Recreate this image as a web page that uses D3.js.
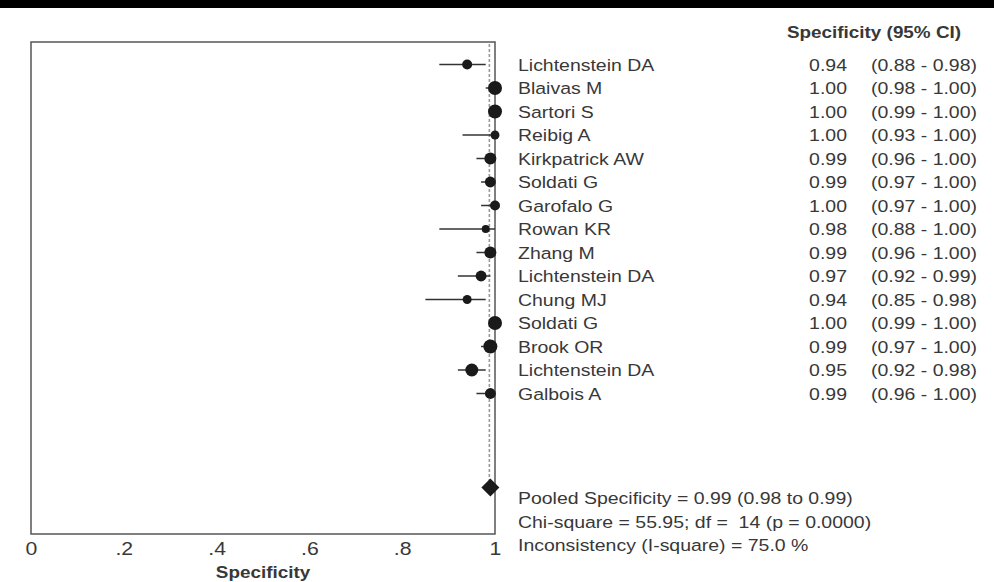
<!DOCTYPE html>
<html>
<head>
<meta charset="utf-8">
<script src="https://cdn.jsdelivr.net/npm/d3@7"></script>
<style>
  body { margin: 0; background: #fff; }
  text { font-family: "Liberation Sans", Arial, sans-serif; fill: #383838; white-space: pre; }
</style>
</head>
<body>
<svg id="chart" width="994" height="582"></svg>
<script>
// study rows, top to bottom
const studies = ["Lichtenstein DA","Blaivas M","Sartori S","Reibig A","Kirkpatrick AW","Soldati G","Garofalo G","Rowan KR","Zhang M","Lichtenstein DA","Chung MJ","Soldati G","Brook OR","Lichtenstein DA","Galbois A"]
const spec  = [0.94,1.00,1.00,1.00,0.99,0.99,1.00,0.98,0.99,0.97,0.94,1.00,0.99,0.95,0.99]
const lower = [0.88,0.98,0.99,0.93,0.96,0.97,0.97,0.88,0.96,0.92,0.85,0.99,0.97,0.92,0.96]
const upper = [0.98,1.00,1.00,1.00,1.00,1.00,1.00,1.00,1.00,0.99,0.98,1.00,1.00,0.98,1.00]
// relative study weight (marker area)
const weights = [25,49,49,20,36,30,25,16,36,30,20,49,49,42,30]

const pooled = 0.99
const statLines = [
  "Pooled Specificity = 0.99 (0.98 to 0.99)",
  "Chi-square = 55.95; df =  14 (p = 0.0000)",
  "Inconsistency (I-square) = 75.0 %"
]
const xTicks = [0,0.2,0.4,0.6,0.8,1]

const svg = d3.select("#chart")
const stretch = 1.18   // the source text is drawn wide

const x = d3.scaleLinear().domain([0,1]).range([31,495])
const yRow = d3.scaleLinear().domain([0,14]).range([64.5,393.5])
const r = d3.scaleSqrt().domain([0,49]).range([0,7])

// put wide text at (px,py)
const wideText = (g, px, py, str, size, anchor="start", weight="normal") =>
  g.append("text")
    .attr("transform", `translate(${px},${py}) scale(${stretch},1)`)
    .attr("text-anchor", anchor)
    .attr("font-size", size)
    .attr("font-weight", weight)
    .text(str)

// black strip across the top
svg.append("rect").attr("x",0).attr("y",0).attr("width",994).attr("height",8).attr("fill","#000")

// frame
svg.append("rect")
  .attr("x", x(0)).attr("y", 42)
  .attr("width", x(1)-x(0)).attr("height", 534-42)
  .attr("fill","none").attr("stroke","#555").attr("stroke-width",1.5)

// pooled reference line
svg.append("line")
  .attr("x1", x(pooled)-1).attr("x2", x(pooled)-1)
  .attr("y1", 44).attr("y2", yRow(18))
  .attr("stroke","#999").attr("stroke-width",1.6)
  .attr("stroke-dasharray","3,2")

// axis
const axis = svg.append("g")
  .attr("transform","translate(0,534)")
  .call(d3.axisBottom(x).tickValues(xTicks).tickSize(0)
    .tickFormat(d => d == 0 ? "0" : d == 1 ? "1" : d3.format(".1f")(d).replace("0.", ".")))
axis.select(".domain").remove()
axis.selectAll(".tick text")
  .attr("y", 0).attr("dy", 0)
  .attr("transform", `translate(0,21) scale(${stretch},1)`)
  .attr("font-size", 18)
  .attr("font-family", '"Liberation Sans", Arial, sans-serif')
  .style("fill","#383838")

wideText(svg, (x(0)+x(1))/2, 578, "Specificity", 16, "middle", "bold")

// CI lines
svg.append("g").selectAll("line")
  .data(studies)
  .join("line")
  .attr("x1", (d,i) => x(lower[i]))
  .attr("x2", (d,i) => x(upper[i]))
  .attr("y1", (d,i) => yRow(i))
  .attr("y2", (d,i) => yRow(i))
  .attr("stroke","#333").attr("stroke-width",1.5)

// markers
svg.append("g").selectAll("circle")
  .data(studies)
  .join("circle")
  .attr("cx", (d,i) => x(spec[i]))
  .attr("cy", (d,i) => yRow(i))
  .attr("r", (d,i) => r(weights[i]))
  .attr("fill","#1a1a1a")

// pooled diamond
const px = x(pooled), py = yRow(18)
svg.append("path")
  .attr("d", `M${px-9},${py} L${px},${py-9} L${px+9},${py} L${px},${py+9} Z`)
  .attr("fill","#1a1a1a")

// right-hand table
const tbl = svg.append("g")
wideText(tbl, 787, 38, "Specificity (95% CI)", 16, "start", "bold")
studies.forEach((s,i) => {
  const yb = yRow(i) + 6
  wideText(tbl, 518, yb, s, 16.5)
  wideText(tbl, 847, yb, d3.format(".2f")(spec[i]), 16.5, "end")
  wideText(tbl, 871, yb, `(${d3.format(".2f")(lower[i])} - ${d3.format(".2f")(upper[i])})`, 16.5)
})
statLines.forEach((s,i) => {
  wideText(tbl, 518, yRow(18.45 + i) + 6, s, 16.5)
})
</script>
</body>
</html>
